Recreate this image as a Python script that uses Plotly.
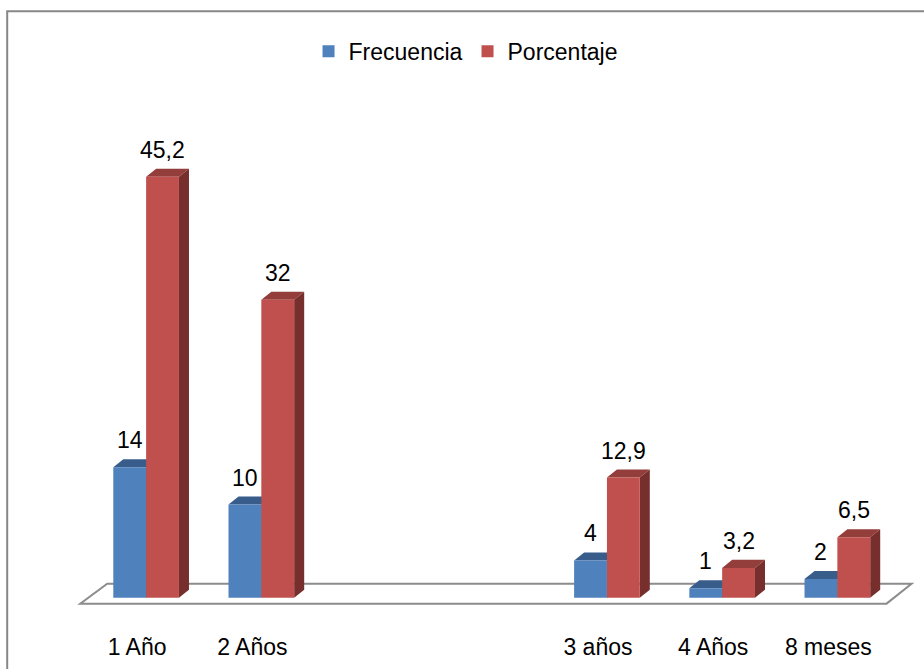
import plotly.graph_objects as go

categories = ["1 Año", "2 Años", "", "", "3 años", "4 Años", "8 meses"]
frecuencia = [14, 10, None, None, 4, 1, 2]
porcentaje = [45.2, 32, None, None, 12.9, 3.2, 6.5]

series = [
    ("Frecuencia", frecuencia, "#4F81BD", "#385D8A", "#2C4A70"),
    ("Porcentaje", porcentaje, "#C0504D", "#943E3B", "#772F2D"),
]

BARGAP = 0.43
FONT = "Liberation Sans"
FS = 23
x_idx = list(range(len(categories)))
bw = (1 - BARGAP) / len(series)
dx, dy = 0.087, 0.86  # depth offset of 3D look (axis units)

fig = go.Figure()
shapes = []
annotations = []

# floor
shapes.append(dict(type="path", xref="x", yref="y", layer="below",
                   path="M -0.338,1.5 L -0.572,-0.64 L 6.427,-0.64 L 6.644,1.5 Z",
                   fillcolor="white", line=dict(color="#8C8C8C", width=2)))

for k, (name, vals, c_front, c_top, c_side) in enumerate(series):
    fig.add_trace(go.Bar(x=x_idx, y=vals, name=name, marker=dict(color=c_front, line=dict(width=0)),
                         hoverinfo="skip"))
    for i, v in enumerate(vals):
        if v is None:
            continue
        x0 = i - (1 - BARGAP) / 2 + k * bw
        x1 = x0 + bw
        shapes.append(dict(type="path", xref="x", yref="y", layer="below",
                           path=f"M {x0},{v} L {x1},{v} L {x1+dx},{v+dy} L {x0+dx},{v+dy} Z",
                           fillcolor=c_top, line=dict(width=0)))
        shapes.append(dict(type="path", xref="x", yref="y", layer="below",
                           path=f"M {x1},0 L {x1+dx},{dy} L {x1+dx},{v+dy} L {x1},{v} Z",
                           fillcolor=c_side, line=dict(width=0)))
        annotations.append(dict(x=(x0 + x1) / 2, y=v, xref="x", yref="y", showarrow=False,
                                text=f"{v:g}".replace(".", ","), yanchor="middle", yshift=27,
                                font=dict(family=FONT, size=FS, color="black")))

# outer chart frame
shapes.append(dict(type="rect", xref="paper", yref="paper", x0=-0.083, x1=1.2, y0=-0.3, y1=1.254,
                   line=dict(color="#878787", width=2), fillcolor="rgba(0,0,0,0)"))

fig.update_layout(
    width=924, height=669,
    margin=dict(l=77, r=6, t=132, b=62),
    paper_bgcolor="white", plot_bgcolor="rgba(0,0,0,0)",
    barmode="group", bargap=BARGAP, bargroupgap=0,
    shapes=shapes, annotations=annotations,
    showlegend=True,
    legend=dict(orientation="h", x=0.462, xanchor="center", y=1.17, yanchor="middle",
                font=dict(family=FONT, size=FS, color="black"), bgcolor="rgba(0,0,0,0)"),
    font=dict(family=FONT, size=FS, color="black"),
)
fig.update_xaxes(range=[-0.6, 6.7], tickvals=x_idx, ticktext=categories, showgrid=False,
                 zeroline=False, showline=False, ticks="", ticklabelstandoff=24, ticklabelshift=-9,
                 tickfont=dict(family=FONT, size=FS, color="black"), fixedrange=True)
fig.update_yaxes(range=[-1.0, 50], visible=False, fixedrange=True)

fig.write_html("out.html")
